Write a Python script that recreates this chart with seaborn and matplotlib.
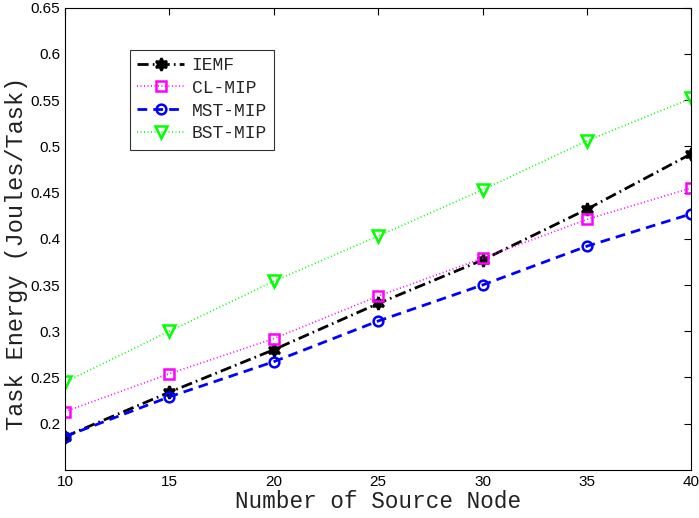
import numpy as np
import pandas as pd
import matplotlib
matplotlib.use("Agg")
import matplotlib.pyplot as plt
import seaborn as sns

nodes = [10, 15, 20, 25, 30, 35, 40]
iemf = [0.186, 0.234, 0.280, 0.330, 0.377, 0.432, 0.492]
cl_mip = [0.213, 0.254, 0.292, 0.338, 0.379, 0.421, 0.455]
mst_mip = [0.186, 0.229, 0.267, 0.311, 0.350, 0.392, 0.427]
bst_mip = [0.245, 0.300, 0.354, 0.403, 0.453, 0.506, 0.552]

series_names = ["IEMF", "CL-MIP", "MST-MIP", "BST-MIP"]
series_vals = [iemf, cl_mip, mst_mip, bst_mip]

df = pd.DataFrame({
    "nodes": np.tile(nodes, len(series_names)),
    "energy": np.concatenate(series_vals),
    "method": np.repeat(series_names, len(nodes)),
})

sns.set_style("white")
plt.rcParams["font.family"] = ["Liberation Sans", "DejaVu Sans"]

fig = plt.figure(figsize=(6.99, 5.18), dpi=100)
ax = fig.add_axes([0.093, 0.093, 0.896, 0.892])

palette = {"IEMF": "black", "CL-MIP": "#ff00ff", "MST-MIP": "#0000ff", "BST-MIP": "#00ff00"}
dashes = {"IEMF": (4, 1.5, 0.6, 1.5), "CL-MIP": (0.6, 1.5), "MST-MIP": (3.5, 2.2), "BST-MIP": (0.6, 1.5)}
star6 = (6, 1, 0)
markers = {"IEMF": star6, "CL-MIP": "s", "MST-MIP": "o", "BST-MIP": "v"}
msize = {"IEMF": 9, "CL-MIP": 6.5, "MST-MIP": 7, "BST-MIP": 8}
lw = {"IEMF": 2.0, "CL-MIP": 1.2, "MST-MIP": 2.0, "BST-MIP": 1.2}

for name in series_names:
    sub = df[df["method"] == name]
    sns.lineplot(data=sub, x="nodes", y="energy", ax=ax, color=palette[name],
                 dashes=False, marker=markers[name], markersize=msize[name],
                 markerfacecolor="none" if name != "IEMF" else "black",
                 markeredgecolor=palette[name], markeredgewidth=1.8,
                 linewidth=lw[name], label=name)
    ax.lines[-1].set_dashes(dashes[name])

ax.set_xlim(10, 40)
ax.set_ylim(0.15, 0.65)
ax.set_xticks([10, 15, 20, 25, 30, 35, 40])
ax.set_yticks([0.2, 0.25, 0.3, 0.35, 0.4, 0.45, 0.5, 0.55, 0.6, 0.65])
ax.set_yticklabels(["0.2", "0.25", "0.3", "0.35", "0.4", "0.45", "0.5", "0.55", "0.6", "0.65"])
ax.tick_params(direction="in", top=True, right=True, length=5, width=0.8,
               labelsize=11, colors="black")
for s in ax.spines.values():
    s.set_color("black")
    s.set_linewidth(0.8)

mono = ["Liberation Mono", "DejaVu Sans Mono"]
ax.set_xlabel("Number of Source Node", fontsize=16.3, family=mono, labelpad=1, color="#222222")
ax.set_ylabel("Task Energy (Joules/Task)", fontsize=17, family=mono, color="#222222")
ax.yaxis.set_label_coords(-0.059, 0.4675)

leg = ax.legend(loc="upper left", bbox_to_anchor=(0.104, 0.909), borderaxespad=0,
                prop={"family": mono, "size": 13},
                frameon=True, fancybox=False, edgecolor="black", handlelength=2.6,
                borderpad=0.4, labelspacing=0.32, handletextpad=0.4)
leg.get_frame().set_linewidth(0.8)

fig.savefig("out.png", dpi=100)
